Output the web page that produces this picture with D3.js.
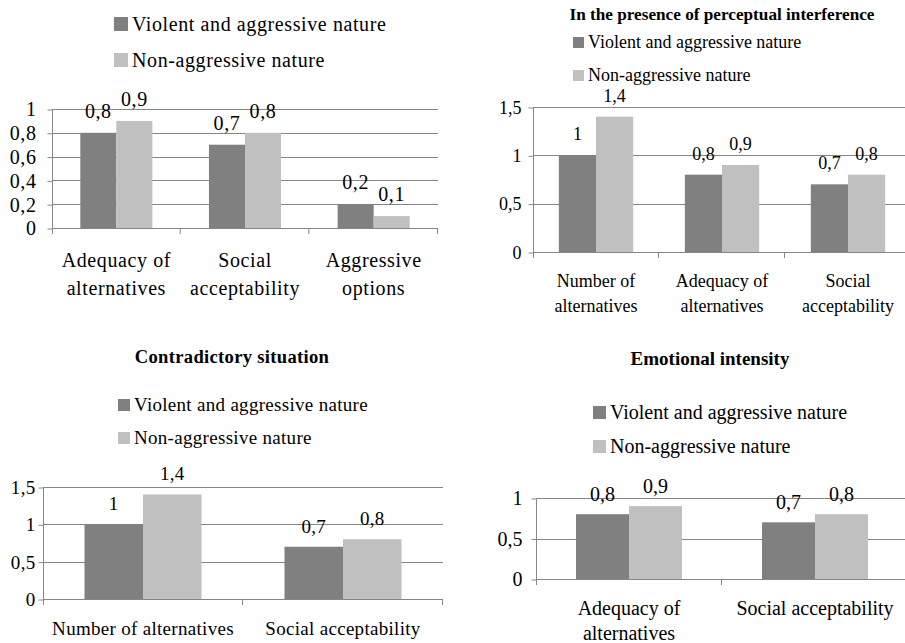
<!DOCTYPE html>
<html>
<head>
<meta charset="utf-8">
<script src="https://cdn.jsdelivr.net/npm/d3@7"></script>
<style>
  body { margin: 0; background: #fff; }
  svg { display: block; }
</style>
</head>
<body>
<svg id="chart" width="905" height="643"></svg>
<script>
const seriesNames = ['Violent and aggressive nature', 'Non-aggressive nature'];
const seriesColors = ['#808080', '#c0c0c0'];

// top-left panel
const baseCategories = [['Adequacy of', 'alternatives'], ['Social', 'acceptability'], ['Aggressive', 'options']];
const baseViolent = [0.8, 0.7, 0.2];
const baseNonAggressive = [0.9, 0.8, 0.1];
const baseTicks = [0, 0.2, 0.4, 0.6, 0.8, 1];

// top-right panel
const perceptualTitle = 'In the presence of perceptual interference';
const perceptualCategories = [['Number of', 'alternatives'], ['Adequacy of', 'alternatives'], ['Social', 'acceptability']];
const perceptualViolent = [1, 0.8, 0.7];
const perceptualNonAggressive = [1.4, 0.9, 0.8];
const perceptualTicks = [0, 0.5, 1, 1.5];

// bottom-left panel
const contradictoryTitle = 'Contradictory situation';
const contradictoryCategories = [['Number of alternatives'], ['Social acceptability']];
const contradictoryViolent = [1, 0.7];
const contradictoryNonAggressive = [1.4, 0.8];
const contradictoryTicks = [0, 0.5, 1, 1.5];

// bottom-right panel
const emotionalTitle = 'Emotional intensity';
const emotionalCategories = [['Adequacy of', 'alternatives'], ['Social acceptability']];
const emotionalViolent = [0.8, 0.7];
const emotionalNonAggressive = [0.9, 0.8];
const emotionalTicks = [0, 0.5, 1];

const serif = '"Liberation Serif", "Times New Roman", Times, serif';
const svg = d3.select('#chart');
const fmt = v => String(v).replace('.', ',');

function drawPanel(o) {
  const g = svg.append('g')
    .style('font-family', serif)
    .style('letter-spacing', (o.spacing || 0) + 'px');
  const n = o.categories.length;
  const x = d3.scaleBand()
    .domain(d3.range(n))
    .range([o.left, o.right]);
  const inner = d3.scaleBand()
    .domain([0, 1])
    .range([x.bandwidth() * (1 - o.groupFrac) / 2, x.bandwidth() * (1 + o.groupFrac) / 2]);
  const y = d3.scaleLinear()
    .domain([0, o.max])
    .range([o.bottom, o.top]);

  if (o.title) {
    g.append('text')
      .attr('x', o.titleX)
      .attr('y', o.titleY)
      .attr('text-anchor', 'middle')
      .style('font-family', serif)
      .style('font-weight', 'bold')
      .style('font-size', o.titleSize + 'px')
      .text(o.title);
  }

  // legend
  const leg = g.selectAll('.leg')
    .data(seriesNames)
    .enter().append('g')
      .attr('transform', (d, i) => `translate(${o.legX},${o.legY + i * o.legGap})`);
  leg.append('rect')
    .attr('x', 0)
    .attr('y', -o.sw)
    .attr('width', o.sw)
    .attr('height', o.sw)
    .attr('fill', (d, i) => seriesColors[i]);
  leg.append('text')
    .attr('x', o.sw + 4)
    .attr('y', 0)
    .style('font-family', serif)
    .style('font-size', o.fontSize + 'px')
    .text(d => d);

  // gridlines
  g.selectAll('.grid')
    .data(o.ticks)
    .enter().append('line')
      .attr('x1', o.left)
      .attr('x2', o.right)
      .attr('y1', d => Math.round(y(d)) + 0.5)
      .attr('y2', d => Math.round(y(d)) + 0.5)
      .attr('stroke', '#868686');

  // bars
  const rows = o.categories.map((c, i) => [o.violent[i], o.nonAggressive[i]]);
  const grp = g.selectAll('.grp')
    .data(rows)
    .enter().append('g')
      .attr('transform', (d, i) => `translate(${x(i)},0)`);
  grp.selectAll('rect')
    .data(d => d)
    .enter().append('rect')
      .attr('x', (d, j) => inner(j))
      .attr('y', d => y(d))
      .attr('width', inner.bandwidth())
      .attr('height', d => y(0) - y(d))
      .attr('fill', (d, j) => seriesColors[j]);
  grp.selectAll('.val')
    .data(d => d)
    .enter().append('text')
      .attr('x', (d, j) => inner(j) + inner.bandwidth() / 2)
      .attr('y', d => y(d) - o.valGap)
      .attr('text-anchor', 'middle')
      .style('font-family', serif)
      .style('font-size', o.fontSize + 'px')
      .text(fmt);

  // y axis
  const yAxis = g.append('g')
    .attr('transform', `translate(${o.left + 0.5},0.5)`)
    .call(d3.axisLeft(y).tickValues(o.ticks).tickSize(5).tickPadding(o.tickPad).tickFormat(fmt));
  yAxis.select('.domain').remove();
  yAxis.selectAll('line').attr('stroke', '#868686');
  yAxis.selectAll('text')
    .style('font-family', serif)
    .style('font-size', o.fontSize + 'px')
    .attr('fill', '#000');
  g.append('line')
    .attr('x1', o.left + 0.5).attr('x2', o.left + 0.5)
    .attr('y1', o.top).attr('y2', o.bottom + 6)
    .attr('stroke', '#868686');

  // category separators
  g.selectAll('.sep')
    .data(d3.range(1, n + 1))
    .enter().append('line')
      .attr('x1', i => o.left + i * x.step() - 0.5)
      .attr('x2', i => o.left + i * x.step() - 0.5)
      .attr('y1', o.bottom)
      .attr('y2', o.bottom + 6)
      .attr('stroke', '#868686');

  // category labels
  const lab = g.selectAll('.cat')
    .data(o.categories)
    .enter().append('text')
      .attr('x', (d, i) => x(i) + x.bandwidth() / 2)
      .attr('y', o.labelY)
      .attr('text-anchor', 'middle')
      .style('font-family', serif)
      .style('font-size', o.fontSize + 'px');
  lab.selectAll('tspan')
    .data(d => d)
    .enter().append('tspan')
      .attr('x', function() { return this.parentNode.getAttribute('x'); })
      .attr('dy', (d, k) => k === 0 ? 0 : o.lineH)
      .text(d => d);
}

drawPanel({
  categories: baseCategories, violent: baseViolent, nonAggressive: baseNonAggressive, ticks: baseTicks,
  max: 1, left: 52, right: 438, top: 109, bottom: 228, groupFrac: 0.56,
  fontSize: 20, spacing: 0.6, tickPad: 11, valGap: 15,
  legX: 114, legY: 31, legGap: 36, sw: 14,
  labelY: 267, lineH: 28
});

drawPanel({
  title: perceptualTitle, titleX: 722, titleY: 20, titleSize: 17.2,
  categories: perceptualCategories, violent: perceptualViolent, nonAggressive: perceptualNonAggressive, ticks: perceptualTicks,
  max: 1.5, left: 533, right: 911, top: 107, bottom: 252, groupFrac: 0.59,
  fontSize: 18, tickPad: 7, valGap: 15,
  legX: 573, legY: 48, legGap: 33, sw: 11,
  labelY: 287, lineH: 25
});

drawPanel({
  title: contradictoryTitle, titleX: 232, titleY: 363, titleSize: 18.6,
  categories: contradictoryCategories, violent: contradictoryViolent, nonAggressive: contradictoryNonAggressive, ticks: contradictoryTicks,
  max: 1.5, left: 43, right: 443, top: 487, bottom: 599, groupFrac: 0.585,
  fontSize: 19, spacing: 0.3, tickPad: 3, valGap: 14,
  legX: 118, legY: 411, legGap: 33, sw: 12,
  labelY: 635, lineH: 25
});

drawPanel({
  title: emotionalTitle, titleX: 710, titleY: 365, titleSize: 19,
  categories: emotionalCategories, violent: emotionalViolent, nonAggressive: emotionalNonAggressive, ticks: emotionalTicks,
  max: 1, left: 536, right: 908, top: 498, bottom: 579, groupFrac: 0.57,
  fontSize: 20, tickPad: 9, valGap: 13,
  legX: 593, legY: 419, legGap: 34, sw: 13,
  labelY: 615, lineH: 25
});
</script>
</body>
</html>
